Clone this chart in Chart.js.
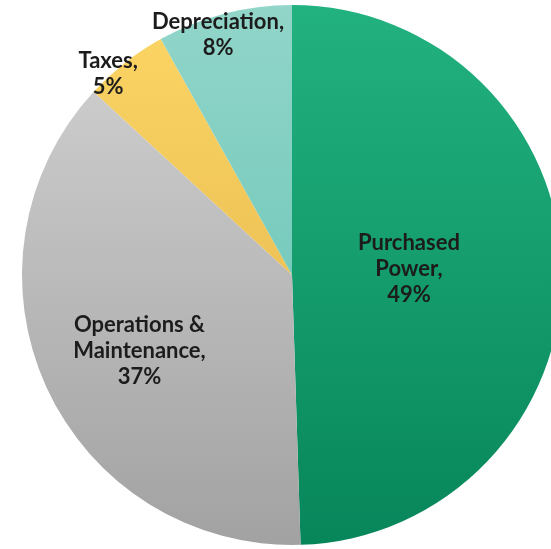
<!DOCTYPE html>
<html>
<head>
<meta charset="utf-8">
<script src="https://cdn.jsdelivr.net/npm/chart.js@4/dist/chart.umd.min.js"></script>
<style>
  html, body { margin: 0; padding: 0; background: #ffffff; overflow: hidden; width: 551px; height: 549px; }
  #wrap { position: absolute; left: 0; top: 0; width: 584px; height: 550px; }
</style>
</head>
<body>
<div id="wrap"><canvas id="c" width="584" height="550"></canvas></div>
<script>
const categories = ["Purchased Power", "Operations & Maintenance", "Taxes", "Depreciation"];
const labelLines = [["Purchased", "Power,", "49%"], ["Operations &", "Maintenance,", "37%"], ["Taxes,", "5%"], ["Depreciation,", "8%"]];
const values = [49, 37, 5, 8];
const topColors = ["#22b27f", "#d3d3d3", "#fcd665", "#92d5c9"];
const bottomColors = ["#07865a", "#a2a2a2", "#dfae48", "#5bc1b1"];
// label centre offsets from pie centre, as fractions of the radius
const labelOffsetX = [0.433, -0.565, -0.681, -0.274];
const labelOffsetY = [-0.024, 0.281, -0.743, -0.889];

function grad(ctx, i) {
  const chart = ctx.chart;
  const a = chart.chartArea;
  if (!a) return topColors[i];
  const g = chart.ctx.createLinearGradient(0, a.top, 0, a.bottom);
  g.addColorStop(0, topColors[i]);
  g.addColorStop(1, bottomColors[i]);
  return g;
}

const labelPlugin = {
  id: 'sliceLabels',
  afterDatasetsDraw(chart) {
    const ctx = chart.ctx;
    const meta = chart.getDatasetMeta(0);
    ctx.save();
    ctx.font = 'bold 22px Lato';
    ctx.fillStyle = '#1c1c1c';
    ctx.textAlign = 'center';
    ctx.textBaseline = 'middle';
    meta.data.forEach((arc, i) => {
      const p = arc.getProps(['x', 'y', 'outerRadius'], true);
      const cx = p.x + labelOffsetX[i] * p.outerRadius;
      const cy = p.y + labelOffsetY[i] * p.outerRadius;
      const lines = labelLines[i];
      const lh = 26;
      const y0 = cy - (lines.length - 1) * lh / 2;
      lines.forEach((t, k) => ctx.fillText(t, cx, y0 + k * lh));
    });
    ctx.restore();
  }
};

new Chart(document.getElementById('c'), {
  type: 'pie',
  data: {
    labels: categories,
    datasets: [{
      data: values,
      backgroundColor: (ctx) => grad(ctx, ctx.dataIndex),
      borderWidth: 0
    }]
  },
  options: {
    responsive: false,
    animation: false,
    layout: { padding: 5 },
    plugins: { legend: { display: false }, tooltip: { enabled: false } }
  },
  plugins: [labelPlugin]
});
</script>
</body>
</html>
